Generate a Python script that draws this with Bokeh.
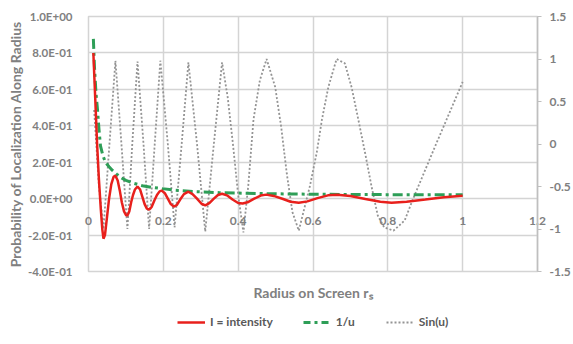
from bokeh.plotting import figure
from bokeh.layouts import column
from bokeh.models import (Range1d, LinearAxis, FixedTicker, CustomJSTickFormatter,
                          Legend, LegendItem, Title)
from bokeh.embed import file_html
from bokeh.resources import INLINE

# ---- data ----
x_ticks = [0, 0.2, 0.4, 0.6, 0.8, 1.0, 1.2]
y_ticks = [-0.4, -0.2, 0, 0.2, 0.4, 0.6, 0.8, 1.0]
y2_ticks = [-1.5, -1, -0.5, 0, 0.5, 1, 1.5]

intensity_x = [0.013, 0.018, 0.023, 0.028, 0.033, 0.037, 0.040, 0.044, 0.049, 0.055,
               0.061, 0.067, 0.072, 0.078, 0.084, 0.089, 0.095, 0.100, 0.104, 0.109,
               0.114, 0.119, 0.124, 0.131, 0.138, 0.144, 0.150, 0.156, 0.162, 0.169,
               0.176, 0.183, 0.190, 0.196, 0.204, 0.212, 0.220, 0.228, 0.236, 0.245,
               0.255, 0.267, 0.278, 0.290, 0.302, 0.312, 0.323, 0.335, 0.346, 0.357,
               0.370, 0.385, 0.400, 0.412, 0.425, 0.443, 0.460, 0.475, 0.495, 0.520,
               0.540, 0.562, 0.585, 0.612, 0.640, 0.665, 0.700, 0.740, 0.780, 0.810,
               0.850, 0.900, 0.950, 1.000]
intensity_y = [0.80, 0.55, 0.30, 0.10, -0.06, -0.17, -0.22, -0.20, -0.11, 0.0,
               0.08, 0.12, 0.126, 0.10, 0.04, -0.02, -0.07, -0.09, -0.093, -0.07,
               -0.02, 0.02, 0.05, 0.066, 0.05, 0.01, -0.03, -0.055, -0.06, -0.045,
               -0.01, 0.02, 0.04, 0.044, 0.03, 0.0, -0.03, -0.044, -0.035, -0.005,
               0.025, 0.038, 0.025, 0.0, -0.028, -0.037, -0.025, 0.0, 0.02, 0.027,
               0.018, -0.005, -0.024, -0.027, -0.02, 0.0, 0.017, 0.022, 0.015, -0.002,
               -0.017, -0.022, -0.015, 0.003, 0.018, 0.022, 0.015, -0.002, -0.017, -0.022,
               -0.017, -0.005, 0.008, 0.016]

inv_u_x = [0.013, 0.016, 0.020, 0.024, 0.028, 0.032, 0.038, 0.045, 0.055, 0.064,
           0.075, 0.087, 0.100, 0.120, 0.144, 0.170, 0.197, 0.232, 0.280, 0.350,
           0.450, 0.600, 0.800, 1.000]
inv_u_y = [0.877, 0.72, 0.58, 0.49, 0.38, 0.29, 0.24, 0.20, 0.175, 0.155,
           0.135, 0.115, 0.10, 0.085, 0.071, 0.062, 0.055, 0.046, 0.039, 0.033,
           0.028, 0.024, 0.022, 0.022]

sin_x = [0.015, 0.028, 0.040, 0.056, 0.072, 0.088, 0.104, 0.117, 0.131, 0.147,
         0.162, 0.177, 0.192, 0.212, 0.230, 0.249, 0.267, 0.290, 0.312, 0.335,
         0.357, 0.372, 0.386, 0.400, 0.414, 0.427, 0.441, 0.458, 0.476, 0.499,
         0.515, 0.530, 0.545, 0.562, 0.592, 0.610, 0.624, 0.641, 0.663, 0.685,
         0.703, 0.721, 0.739, 0.756, 0.773, 0.790, 0.815, 0.845, 0.867, 0.929,
         1.000]
sin_y = [0.4, -0.5, -1.0, 0.0, 0.98, 0.0, -1.0, 0.0, 0.97, 0.0,
         -1.0, 0.0, 0.98, 0.0, -0.98, 0.0, 0.96, 0.0, -1.03, 0.0,
         0.96, 0.55, 0.0, -0.6, -1.04, -0.49, 0.29, 0.75, 1.0, 0.67,
         0.2, -0.35, -0.8, -1.02, -0.49, -0.1, 0.29, 0.67, 1.0, 0.95,
         0.67, 0.29, -0.1, -0.49, -0.84, -0.98, -1.02, -0.9, -0.65, 0.0,
         0.73]

FONT = "Lato"
GRAY = "#808080"
GRID = "#d4d4d4"
RED = "#e8201c"
GREEN = "#2e9e57"
DOT = "#949494"

p = figure(width=573, height=310, x_range=Range1d(0, 1.2), y_range=Range1d(-0.4, 1.0),
           output_backend="svg", toolbar_location=None,
           min_border_left=88, min_border_right=33, min_border_top=16, min_border_bottom=37)
p.extra_y_ranges = {"sin": Range1d(-1.5, 1.5)}
p.outline_line_color = GRID
p.outline_line_width = 1.5

# grids
p.xgrid.ticker = FixedTicker(ticks=x_ticks)
p.ygrid.ticker = FixedTicker(ticks=y_ticks)
for g in (p.xgrid, p.ygrid):
    g.grid_line_color = GRID
    g.grid_line_width = 1.5

num_fmt = "return String(Math.round(tick*10)/10);"

# x axis: its labels are lifted up to sit just under the y = 0 line
xa = p.xaxis[0]
xa.ticker = FixedTicker(ticks=x_ticks)
xa.formatter = CustomJSTickFormatter(code=num_fmt)
xa.axis_line_color = None
xa.major_tick_line_color = None
xa.minor_tick_line_color = None
xa.major_tick_out = 0
xa.major_tick_in = 0
xa.major_label_standoff = -55
xa.major_label_text_font = FONT
xa.major_label_text_font_style = "bold"
xa.major_label_text_font_size = "12px"
xa.major_label_text_color = GRAY

# left axis
ya = p.yaxis[0]
ya.ticker = FixedTicker(ticks=y_ticks)
ya.formatter = CustomJSTickFormatter(code="""
var s = tick.toExponential(1).split('e');
var e = parseInt(s[1]);
var a = Math.abs(e);
return s[0] + 'E' + (e < 0 ? '-' : '+') + (a < 10 ? '0' : '') + a;
""")
ya.axis_line_color = None
ya.major_tick_line_color = None
ya.minor_tick_line_color = None
ya.major_label_standoff = 10
ya.major_label_text_font = FONT
ya.major_label_text_font_style = "bold"
ya.major_label_text_font_size = "11.5px"
ya.major_label_text_color = GRAY
ya.axis_label = "Probability of Localization Along Radius"
ya.axis_label_text_font = FONT
ya.axis_label_text_font_style = "bold"
ya.axis_label_text_font_size = "14px"
ya.axis_label_text_color = GRAY
ya.axis_label_standoff = 1

# right axis
ra = LinearAxis(y_range_name="sin", ticker=FixedTicker(ticks=y2_ticks),
                formatter=CustomJSTickFormatter(code=num_fmt))
ra.axis_line_color = "#bfbfbf"
ra.axis_line_width = 1.5
ra.major_tick_line_color = "#bfbfbf"
ra.major_tick_out = 4
ra.major_tick_in = 0
ra.minor_tick_line_color = None
ra.major_label_standoff = 8
ra.major_label_text_font = FONT
ra.major_label_text_font_style = "bold"
ra.major_label_text_font_size = "12px"
ra.major_label_text_color = GRAY
p.add_layout(ra, "right")

# series
p.line(sin_x, sin_y, y_range_name="sin", line_color=DOT, line_width=1.8, line_dash="2 2")
p.line(inv_u_x, inv_u_y, line_color=GREEN, line_width=3, line_dash="10 4 3 4")
p.line(intensity_x, intensity_y, line_color=RED, line_width=2.5)

# x axis title
p.add_layout(Title(text="Radius on Screen r\u209b", align="center", text_font=FONT,
                   text_font_style="bold", text_font_size="14px", text_color=GRAY,
                   standoff=20), "below")

# legend strip below the chart (proxy renderers only carry the line styles)
lp = figure(width=573, height=34, x_range=Range1d(0, 1), y_range=Range1d(0, 1),
            output_backend="svg", toolbar_location=None,
            x_axis_location=None, y_axis_location=None,
            min_border_left=0, min_border_right=0, min_border_top=0, min_border_bottom=0)
lp.outline_line_color = None
lp.grid.visible = False
g_int = lp.line([0.5], [0.5], line_color=RED, line_width=2.5)
g_inv = lp.line([0.5], [0.5], line_color=GREEN, line_width=3, line_dash="7 4 3 4")
g_sin = lp.line([0.5], [0.5], line_color=DOT, line_width=1.8, line_dash="2 2")

legend = Legend(items=[LegendItem(label="I = intensity", renderers=[g_int]),
                       LegendItem(label="1/u", renderers=[g_inv]),
                       LegendItem(label="Sin(u)", renderers=[g_sin])],
                orientation="horizontal", location=(89, 15))
legend.label_text_font = FONT
legend.label_text_font_style = "bold"
legend.label_text_font_size = "12px"
legend.label_text_color = "#595959"
legend.glyph_width = 28
legend.glyph_height = 12
legend.label_height = 12
legend.label_standoff = 5
legend.spacing = 30
legend.padding = 0
legend.margin = 0
legend.border_line_color = None
legend.background_fill_alpha = 0
lp.add_layout(legend)

layout = column(p, lp, spacing=0)
open("out.html", "w").write(file_html(layout, INLINE))
